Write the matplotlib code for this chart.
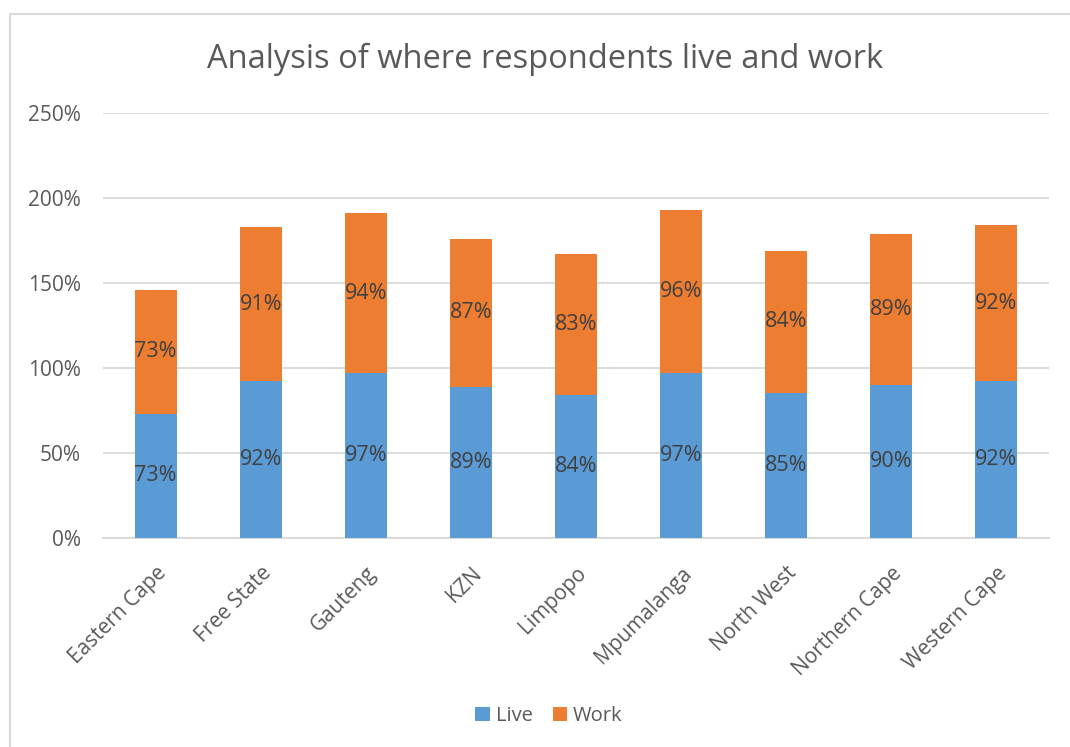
import matplotlib
matplotlib.use("Agg")
import matplotlib.pyplot as plt
import numpy as np
from matplotlib.patches import Rectangle
from matplotlib.ticker import PercentFormatter

provinces = [
    "Eastern Cape",
    "Free State",
    "Gauteng",
    "KZN",
    "Limpopo",
    "Mpumalanga",
    "North West",
    "Northern Cape",
    "Western Cape",
]
live = [73, 92, 97, 89, 84, 97, 85, 90, 92]
work = [73, 91, 94, 87, 83, 96, 84, 89, 92]

plt.rcParams["font.family"] = ["Open Sans", "DejaVu Sans"]
text_grey = "#595959"
label_grey = "#404040"

fig = plt.figure(figsize=(10.7, 7.47), dpi=100)
ax = fig.add_axes([0.0963, 0.280, 0.884, 0.569])

x = np.arange(len(provinces))
live_bars = ax.bar(x, live, width=0.4, color="#5b9bd5", label="Live", zorder=3)
work_bars = ax.bar(x, work, width=0.4, bottom=live, color="#ed7d31",
                   label="Work", zorder=3)

for bars in (live_bars, work_bars):
    ax.bar_label(bars, labels=[f"{int(b.get_height())}%" for b in bars],
                 label_type="center", fontsize=15.5, color=label_grey)

ax.set_xlim(-0.5, len(provinces) - 0.5)
ax.set_ylim(0, 250)
ax.set_yticks(range(0, 251, 50))
ax.yaxis.set_major_formatter(PercentFormatter(decimals=0))
ax.grid(axis="y", color="#d9d9d9", linewidth=1.3, zorder=0)
for side in ("top", "right", "left"):
    ax.spines[side].set_visible(False)
ax.spines["bottom"].set_color("#d9d9d9")
ax.spines["bottom"].set_linewidth(1.3)
ax.tick_params(length=0, labelsize=15, colors=text_grey)
ax.tick_params(axis="x", pad=18)
ax.tick_params(axis="y", pad=16)
ax.set_xticks(x)
ax.set_xticklabels(provinces, rotation=45, ha="right", rotation_mode="anchor")

fig.text(0.509, 0.921, "Analysis of where respondents live and work",
         ha="center", va="center", fontsize=23.5, color=text_grey)

fig.legend(handles=[live_bars, work_bars], loc="center",
           bbox_to_anchor=(0.513, 0.042), ncol=2, frameon=False,
           fontsize=14.5, labelcolor=text_grey, handlelength=0.7,
           handleheight=0.7, handletextpad=0.3, columnspacing=1.0)

# chart area outline
fig.patches.append(Rectangle((0.0094, -0.01), 1.0, 0.991, transform=fig.transFigure,
                             fill=False, edgecolor="#d9d9d9", linewidth=1.5))

fig.savefig("out.png", dpi=100, facecolor="white")
